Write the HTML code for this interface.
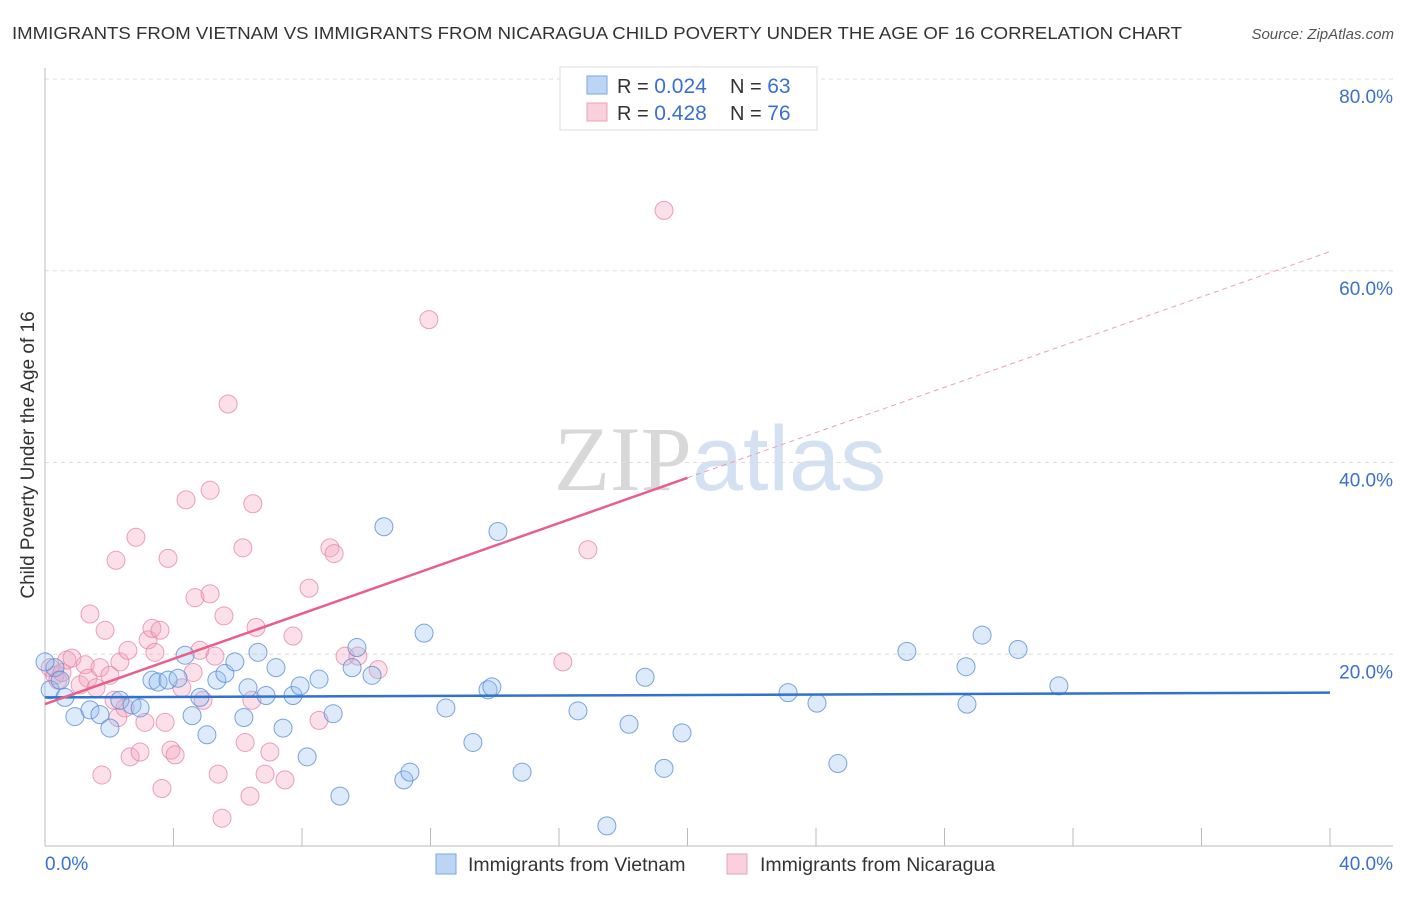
<!DOCTYPE html>
<html><head><meta charset="utf-8"><style>
body{margin:0;background:#fff;font-family:"Liberation Sans",sans-serif;}
svg text{font-family:"Liberation Sans",sans-serif;}
</style></head><body>
<svg id="chart" width="1406" height="892" viewBox="0 0 1406 892" xmlns="http://www.w3.org/2000/svg">
<text x="12" y="39" font-size="17.5" fill="#333" textLength="1170" lengthAdjust="spacingAndGlyphs">IMMIGRANTS FROM VIETNAM VS IMMIGRANTS FROM NICARAGUA CHILD POVERTY UNDER THE AGE OF 16 CORRELATION CHART</text>
<text x="1394" y="39" font-size="15" fill="#555" text-anchor="end" font-style="italic">Source: ZipAtlas.com</text>
<text x="720" y="490" font-size="92" text-anchor="middle" fill="#d8d8d8" opacity="0.8"><tspan font-family="Liberation Serif" fill="#cfcfcf">ZIP</tspan><tspan fill="#c9daf0">atlas</tspan></text>
<g id="grid"></g><g id="axes"></g><g id="pts"></g><g id="trend"></g>
<text transform="translate(34,455) rotate(-90)" font-size="19" fill="#333" text-anchor="middle">Child Poverty Under the Age of 16</text>
<g>
<rect x="560" y="67" width="257" height="63" fill="#fff" stroke="#ddd"/>
<rect x="587" y="76" width="20" height="18" fill="#bcd5f5" stroke="#7aa6e0"/>
<rect x="587" y="103" width="20" height="18" fill="#fbd0dd" stroke="#eda0b8"/>
<text x="617" y="93" font-size="20" fill="#333">R = <tspan fill="#3a70d0" font-size="21">0.024</tspan></text>
<text x="730" y="93" font-size="20" fill="#333">N = <tspan fill="#3a70d0" font-size="21">63</tspan></text>
<text x="617" y="120" font-size="20" fill="#333">R = <tspan fill="#3a70d0" font-size="21"> 0.428</tspan></text>
<text x="730" y="120" font-size="20" fill="#333">N = <tspan fill="#3a70d0" font-size="21">76</tspan></text>
</g>
<g>
<rect x="436" y="854" width="20" height="20" fill="#bcd5f5" stroke="#7aa6e0"/>
<text x="468" y="871" font-size="19.5" fill="#333">Immigrants from Vietnam</text>
<rect x="727" y="854" width="20" height="20" fill="#fbd0dd" stroke="#eda0b8"/>
<text x="760" y="871" font-size="19.5" fill="#333">Immigrants from Nicaragua</text>
</g>
</svg>
<script>
const yTicks=[20,40,60,80];
const xTickLabels=["0.0%","40.0%"];
const blueX=[0.16,0.31,0.62,0.93,1.40,1.71,2.02,2.33,2.71,2.96,3.33,3.52,3.83,4.14,4.36,4.58,4.82,5.04,5.35,5.60,5.91,6.19,6.32,6.63,6.88,7.19,7.41,7.72,7.94,8.16,8.53,8.97,9.18,9.56,9.71,10.18,10.55,11.17,11.36,11.80,12.48,13.32,13.79,13.91,14.10,14.85,16.59,17.49,18.18,18.68,19.27,19.83,23.13,24.03,24.68,26.83,28.67,28.70,29.17,30.29,31.56,0.0,0.47];
const blueY=[16.3,18.6,15.5,13.5,14.2,13.7,12.3,15.2,14.7,14.4,17.3,17.1,17.3,17.5,19.9,13.6,15.5,11.6,17.3,18.0,19.2,13.4,16.5,20.2,15.7,18.6,12.3,15.7,16.7,9.3,17.4,13.8,5.2,18.6,20.7,17.8,33.3,6.9,7.7,22.2,14.4,10.8,16.3,16.6,32.8,7.7,14.1,2.1,12.7,17.6,8.1,11.8,16.0,14.9,8.6,20.3,18.7,14.8,22.0,20.5,16.7,19.2,17.3];
const pinkX=[0.16,0.31,0.40,0.53,0.68,0.84,1.09,1.25,1.34,1.40,1.59,1.71,1.77,1.87,2.02,2.15,2.21,2.27,2.33,2.49,2.58,2.65,2.83,2.96,3.11,3.21,3.33,3.42,3.58,3.64,3.74,3.83,3.92,4.05,4.26,4.39,4.61,4.67,4.82,4.92,5.14,5.14,5.29,5.39,5.51,5.57,5.70,6.16,6.23,6.38,6.47,6.57,6.44,6.85,7.00,7.47,7.72,8.22,8.53,8.87,9.00,9.34,9.74,10.37,11.95,16.12,16.90,19.27];
const pinkY=[18.6,17.8,17.3,18.1,19.4,19.6,16.8,18.9,17.5,24.2,16.5,18.6,7.4,22.5,17.8,15.2,29.8,13.4,19.2,14.4,20.4,9.3,32.2,9.8,12.9,21.5,22.7,20.2,22.5,6.0,12.9,30.0,10.0,9.5,16.5,36.1,18.1,25.9,20.4,15.2,37.1,26.3,19.8,7.5,2.9,24.0,46.1,31.1,10.8,5.2,35.7,22.8,15.2,7.5,9.8,6.9,21.9,26.9,13.1,31.1,30.5,19.8,19.8,18.4,54.9,19.2,30.9,66.3];
const blueTrend=[15.5,16.0];
const pinkTrend=[14.8,62.0];
const pinkSolidEnd=20.0;
const NS="http://www.w3.org/2000/svg";
const X0=45,X1=1330,Y0=846,YTOP=79;
function sx(v){return X0+(v/40)*(X1-X0);}
function sy(v){return Y0-(v/80)*(Y0-YTOP);}
function mk(tag,attrs,parent){const e=document.createElementNS(NS,tag);for(const k in attrs)e.setAttribute(k,attrs[k]);parent.appendChild(e);return e;}
const grid=document.getElementById('grid'),axes=document.getElementById('axes'),pts=document.getElementById('pts'),trend=document.getElementById('trend');
yTicks.forEach(t=>{
 const l=mk('line',{x1:X0,x2:1393,y1:sy(t),y2:sy(t),stroke:'#ddd','stroke-dasharray':'4,4'},grid);
 
 
 const tx=mk('text',{x:1393,y:sy(t)+24,'font-size':19,fill:'#3a70d0','text-anchor':'end'},grid);
 tx.textContent=t.toFixed(1)+'%';
 
 
});
const ax=mk('line',{x1:X0,x2:X0,y1:68,y2:Y0,stroke:'#bbb'},axes);


const bx=mk('line',{x1:X0,x2:1393,y1:Y0,y2:Y0,stroke:'#bbb'},axes);


for(let i=1;i<=10;i++){
 const t=mk('line',{x1:sx(i*4),x2:sx(i*4),y1:828,y2:Y0,stroke:'#bbb'},axes);
 
 
}
const xl0=mk('text',{x:45,y:870,'font-size':19,fill:'#3a70d0'},axes);xl0.textContent=xTickLabels[0];


const xl1=mk('text',{x:1393,y:870,'font-size':19,fill:'#3a70d0','text-anchor':'end'},axes);xl1.textContent=xTickLabels[1];


pinkX.forEach((x,i)=>{
 const c=mk('circle',{cx:sx(x),cy:sy(pinkY[i]),r:9,fill:'rgba(244,160,188,0.33)',stroke:'rgba(232,130,162,0.75)','stroke-width':1},pts);
 
 
});
blueX.forEach((x,i)=>{
 const c=mk('circle',{cx:sx(x),cy:sy(blueY[i]),r:9,fill:'rgba(150,190,240,0.33)',stroke:'rgba(80,135,215,0.75)','stroke-width':1},pts);
 
 
});
const bt=mk('line',{x1:sx(0),y1:sy(blueTrend[0]),x2:sx(40),y2:sy(blueTrend[1]),stroke:'#2f72d0','stroke-width':2.5},trend);


const pm=v=>pinkTrend[0]+(pinkTrend[1]-pinkTrend[0])*v/40;
const ps=mk('line',{x1:sx(0),y1:sy(pm(0)),x2:sx(pinkSolidEnd),y2:sy(pm(pinkSolidEnd)),stroke:'#e8608a','stroke-width':2.5},trend);


const pd=mk('line',{x1:sx(pinkSolidEnd),y1:sy(pm(pinkSolidEnd)),x2:sx(40),y2:sy(pm(40)),stroke:'#eba0b8','stroke-width':1,'stroke-dasharray':'5,4'},trend);


</script>
</body></html>
